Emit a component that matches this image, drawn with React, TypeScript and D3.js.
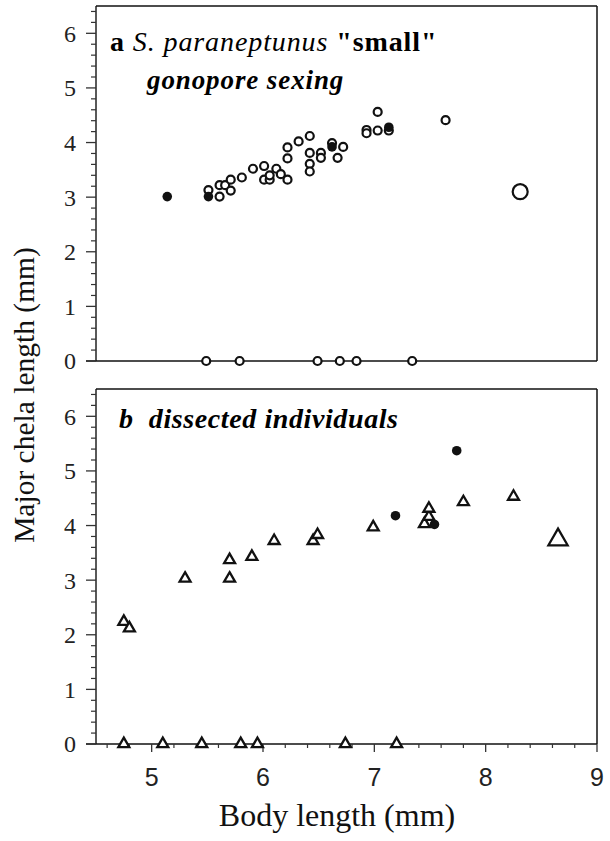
import React from "react";
import * as d3 from "d3";

// Panel a: S. paraneptunus "small", gonopore sexing
const aOpenX = [5.51, 5.61, 5.61, 5.66, 5.71, 5.71, 5.81, 5.91, 6.01, 6.01, 6.06, 6.06, 6.12, 6.16, 6.22, 6.22, 6.22, 6.32, 6.42, 6.42, 6.42, 6.42, 6.52, 6.52, 6.62, 6.67, 6.72, 6.93, 6.93, 7.03, 7.03, 7.13, 7.64];
const aOpenY = [3.13, 3.01, 3.22, 3.22, 3.32, 3.12, 3.36, 3.52, 3.57, 3.32, 3.32, 3.40, 3.52, 3.42, 3.32, 3.71, 3.91, 4.02, 4.12, 3.81, 3.61, 3.47, 3.81, 3.72, 3.99, 3.72, 3.92, 4.23, 4.17, 4.56, 4.22, 4.22, 4.41];
const aFilledX = [5.14, 5.51, 6.62, 7.13];
const aFilledY = [3.01, 3.01, 3.92, 4.28];
const aZeroX = [5.49, 5.79, 6.49, 6.69, 6.84, 7.34];
const aBigX = [8.31];
const aBigY = [3.10];

// Panel b: dissected individuals
const bOpenX = [4.75, 4.80, 5.30, 5.70, 5.70, 5.90, 6.10, 6.45, 6.49, 6.99, 7.45, 7.49, 7.49, 7.80, 8.25];
const bOpenY = [2.24, 2.12, 3.03, 3.03, 3.37, 3.43, 3.72, 3.72, 3.83, 3.97, 4.03, 4.16, 4.31, 4.43, 4.53];
const bFilledX = [7.19, 7.54, 7.74];
const bFilledY = [4.18, 4.02, 5.37];
const bZeroX = [4.75, 5.10, 5.45, 5.80, 5.95, 6.74, 7.20];
const bBigX = [8.65];
const bBigY = [3.74];

const yMajor = [0, 1, 2, 3, 4, 5, 6];
const xMajor = [5, 6, 7, 8, 9];

const X0 = 96;
const X1 = 597;
const x = d3.scaleLinear().domain([4.5, 9]).range([X0, X1]);
const yA = d3.scaleLinear().domain([0, 6.5]).range([361, 6]);
const yB = d3.scaleLinear().domain([0, 6.5]).range([744, 389]);

const yMinor = d3.range(0, 33).map((i) => +(i * 0.2).toFixed(2)).filter((v) => !Number.isInteger(v));
const xMinor = d3.range(0, 23).map((i) => +(4.6 + i * 0.2).toFixed(2)).filter((v) => !Number.isInteger(v) && v < 9);

const INK = "#111";
const triSmall = d3.symbol(d3.symbolTriangle, 52)()!;
const triBig = d3.symbol(d3.symbolTriangle, 160)()!;

function YAxis({ y }: { y: d3.ScaleLinear<number, number> }) {
  return (
    <g>
      {yMajor.map((v) => (
        <g key={"M" + v}>
          <line x1={X0 - 10} x2={X0} y1={y(v)} y2={y(v)} stroke="#333" strokeWidth={1.3} />
          <text x={76} y={y(v)} dy="0.35em" textAnchor="end" fontFamily="'Liberation Serif', serif" fontSize={24} fill="#222">
            {v}
          </text>
        </g>
      ))}
      {yMinor.map((v) => (
        <line key={"m" + v} x1={X0 - 5} x2={X0} y1={y(v)} y2={y(v)} stroke="#333" strokeWidth={1.2} />
      ))}
    </g>
  );
}

function Frame({ y }: { y: d3.ScaleLinear<number, number> }) {
  const top = y(6.5);
  const bot = y(0);
  return (
    <g>
      <line x1={X0} x2={X0} y1={top} y2={bot} stroke="#222" strokeWidth={1.5} />
      <line x1={X0} x2={X1} y1={top} y2={top} stroke="#111" strokeWidth={1.5} />
      <line x1={X1} x2={X1} y1={top} y2={bot} stroke="#111" strokeWidth={1.5} />
      <line x1={X0 - 10} x2={X1} y1={bot} y2={bot} stroke="#111" strokeWidth={1.6} />
    </g>
  );
}

export default function App() {
  return (
    <svg width={610} height={841} style={{ position: "absolute", left: 0, top: 0, background: "#fff" }}>
      <rect x={0} y={0} width={610} height={841} fill="#fff" />
      {/* Panel a */}
      <Frame y={yA} />
      <YAxis y={yA} />
      <text x={110} y={51} fontFamily="'Liberation Serif', serif" fontSize={28} letterSpacing={0.9} fill="#000">
        <tspan fontWeight="bold">a</tspan>
        <tspan fontStyle="italic"> S. paraneptunus</tspan>
        <tspan fontWeight="bold"> "small"</tspan>
      </text>
      <text x={147} y={89} fontFamily="'Liberation Serif', serif" fontSize={27} fontStyle="italic" fontWeight="bold" letterSpacing={0.9} fill="#000">
        gonopore sexing
      </text>
      {aOpenX.map((v, i) => (
        <circle key={"ao" + i} cx={x(v)} cy={yA(aOpenY[i])} r={4} fill="#fff" stroke={INK} strokeWidth={2.2} />
      ))}
      {aFilledX.map((v, i) => (
        <circle key={"af" + i} cx={x(v)} cy={yA(aFilledY[i])} r={4.8} fill={INK} />
      ))}
      {aZeroX.map((v, i) => (
        <circle key={"az" + i} cx={x(v)} cy={yA(0)} r={4} fill="#fff" stroke={INK} strokeWidth={2.2} />
      ))}
      {aBigX.map((v, i) => (
        <circle key={"ab" + i} cx={x(v)} cy={yA(aBigY[i])} r={7.5} fill="#fff" stroke={INK} strokeWidth={2.2} />
      ))}

      {/* Panel b */}
      <Frame y={yB} />
      <YAxis y={yB} />
      {xMajor.map((v) => (
        <g key={"xM" + v}>
          <line x1={x(v)} x2={x(v)} y1={yB(0)} y2={yB(0) + 8} stroke="#333" strokeWidth={1.3} />
          <text x={x(v)} y={786} textAnchor="middle" fontFamily="'Liberation Sans', Arial, sans-serif" fontSize={25} fill="#222">
            {v}
          </text>
        </g>
      ))}
      {xMinor.map((v) => (
        <line key={"xm" + v} x1={x(v)} x2={x(v)} y1={yB(0)} y2={yB(0) + 4} stroke="#333" strokeWidth={1.2} />
      ))}
      <text x={119} y={428} fontFamily="'Liberation Serif', serif" fontSize={28} fontStyle="italic" fontWeight="bold" letterSpacing={0.6} fill="#000" style={{ whiteSpace: "pre" }}>
        {"b  dissected individuals"}
      </text>
      {bOpenX.map((v, i) => (
        <path key={"bo" + i} d={triSmall} transform={`translate(${x(v)},${yB(bOpenY[i])})`} fill="#fff" stroke={INK} strokeWidth={2.3} />
      ))}
      {bZeroX.map((v, i) => (
        <path key={"bz" + i} d={triSmall} transform={`translate(${x(v)},${yB(0)})`} fill="#fff" stroke={INK} strokeWidth={2.3} />
      ))}
      {bFilledX.map((v, i) => (
        <circle key={"bf" + i} cx={x(v)} cy={yB(bFilledY[i])} r={4.8} fill={INK} />
      ))}
      {bBigX.map((v, i) => (
        <path key={"bb" + i} d={triBig} transform={`translate(${x(v)},${yB(bBigY[i])})`} fill="#fff" stroke={INK} strokeWidth={2.3} />
      ))}

      {/* Axis titles */}
      <text transform="translate(34,395) rotate(-90)" textAnchor="middle" fontFamily="'Liberation Serif', serif" fontSize={29.5} fill="#111">
        Major chela length (mm)
      </text>
      <text x={337} y={826} textAnchor="middle" fontFamily="'Liberation Serif', serif" fontSize={32} fill="#111">
        Body length (mm)
      </text>
    </svg>
  );
}
